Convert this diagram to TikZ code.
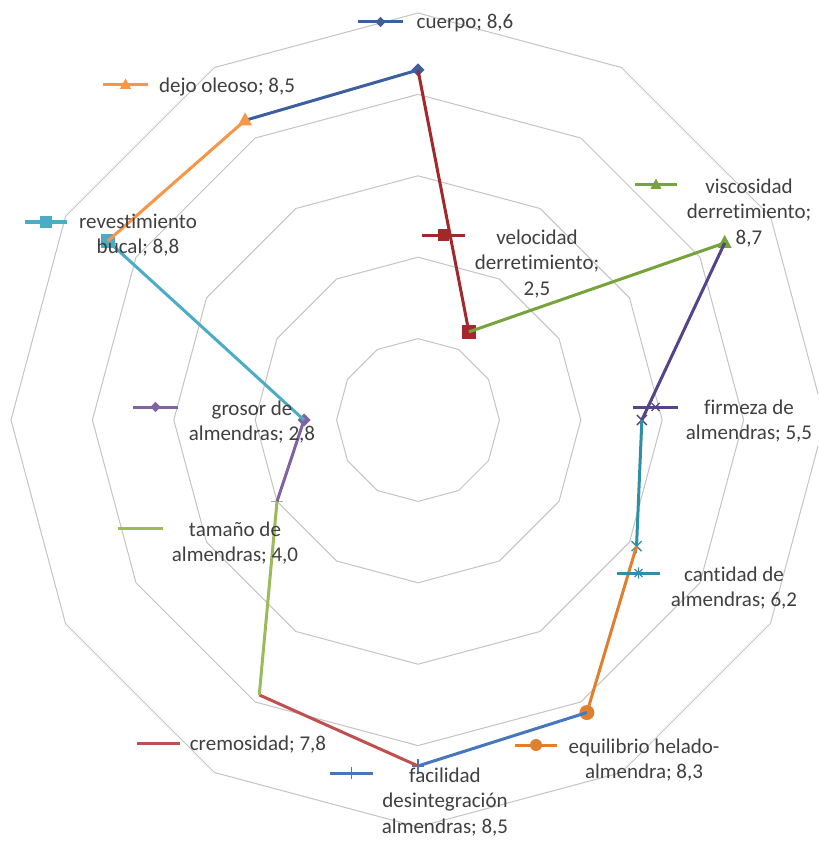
\documentclass[tikz,border=0pt]{standalone}
\usepackage{fontspec}
\setmainfont{Carlito}[Ligatures={NoCommon}]
\usetikzlibrary{calc}
\definecolor{cA}{HTML}{3B5FA0}
\definecolor{cB}{HTML}{A1292B}
\definecolor{cC}{HTML}{76A33A}
\definecolor{cD}{HTML}{56448A}
\definecolor{cE}{HTML}{2F8FA6}
\definecolor{cF}{HTML}{E0802E}
\definecolor{cG}{HTML}{4677BE}
\definecolor{cH}{HTML}{C0504D}
\definecolor{cI}{HTML}{9BBB59}
\definecolor{cJ}{HTML}{8064A2}
\definecolor{cK}{HTML}{4BACC6}
\definecolor{cL}{HTML}{F79646}
\definecolor{gridc}{HTML}{C4C4C4}
\definecolor{txt}{HTML}{404040}
\tikzset{
  gridline/.style={draw=gridc,line width=1pt},
  serline/.style={line width=3pt,line join=round},
  lab/.style={font=\fontsize{21}{25.5}\selectfont,text=txt,align=center,inner sep=0pt},
  pics/mdia/.style={code={\fill (0,-6.5)--(6.5,0)--(0,6.5)--(-6.5,0)--cycle;}},
  pics/msq/.style={code={\fill (-7,-7) rectangle (7,7);}},
  pics/mtri/.style={code={\fill (0,-8)--(7,5)--(-7,5)--cycle;}},
  pics/mcirc/.style={code={\fill (0,0) circle (7.5);}},
  pics/mx/.style={code={\draw[line width=1.3pt] (-5,-5)--(5,5) (-5,5)--(5,-5);}},
  pics/mstar/.style={code={\draw[line width=1.3pt] (-5,-5)--(5,5) (-5,5)--(5,-5) (0,-7)--(0,7);}},
  pics/mplus/.style={code={\draw[line width=1.3pt] (-6,0)--(6,0) (0,-7)--(0,7);}},
  pics/mdash/.style={code={\draw[line width=1.5pt] (-6,0)--(6,0);}},
  pics/mnone/.style={code={}},
}
\newcommand\legkey[5]{%
  \draw[serline,#4] (#1,#3) -- (#2,#3);
  \pic[#4,scale=.8] at ({(#1+#2)/2},#3) {#5};}
\begin{document}
\begin{tikzpicture}[x=1pt,y=-1pt]
\useasboundingbox (0,0) rectangle (818,842);
\fill[white] (0,0) rectangle (818,842);
\clip (0,0) rectangle (818,842);
\coordinate (c) at (418,420);
% grid rings
\foreach \k in {1,...,5}{
  \draw[gridline] ($(c)+(0:{\k*81.4pt})$)
    \foreach \a in {30,60,...,330}{ -- ($(c)+(\a:{\k*81.4pt})$) } -- cycle;
}
% data points
\foreach \n/\a/\v in {p1/90/8.6, p2/60/2.5, p3/30/8.7, p4/0/5.5, p5/-30/6.2, p6/-60/8.3,
  p7/-90/8.5, p8/-120/7.8, p9/-150/4.0, p10/180/2.8, p11/150/8.8, p12/120/8.5}{
  \coordinate (\n) at ($(c)+(\a:{\v*40.7pt})$);
}
% series segments and markers
\draw[serline,cA] (p12) -- (p1);  \pic[cA] at (p1) {mdia};
\draw[serline,cB] (p1) -- (p2);   \pic[cB] at (p2) {msq};
\draw[serline,cC] (p2) -- (p3);   \pic[cC] at (p3) {mtri};
\draw[serline,cD] (p3) -- (p4);   \pic[cD] at (p4) {mx};
\draw[serline,cE] (p4) -- (p5);   \pic[cE] at (p5) {mstar};
\draw[serline,cF] (p5) -- (p6);   \pic[cF] at (p6) {mcirc};
\draw[serline,cG] (p6) -- (p7);   \pic[cG] at (p7) {mplus};
\draw[serline,cH] (p7) -- (p8);   \pic[cH] at (p8) {mnone};
\draw[serline,cI] (p8) -- (p9);   \pic[cI] at (p9) {mdash};
\draw[serline,cJ] (p9) -- (p10);  \pic[cJ] at (p10) {mdia};
\draw[serline,cK] (p10) -- (p11); \pic[cK] at (p11) {msq};
\draw[serline,cL] (p11) -- (p12); \pic[cL] at (p12) {mtri};
% legend keys
\legkey{358}{403}{22}{cA}{mdia}
\legkey{422}{465}{235}{cB}{msq}
\legkey{635}{677}{185}{cC}{mtri}
\legkey{633}{678}{407}{cD}{mx}
\legkey{617}{660}{573}{cE}{mstar}
\legkey{515}{557}{745}{cF}{mcirc}
\legkey{330}{373}{773}{cG}{mplus}
\legkey{137}{180}{743}{cH}{mnone}
\legkey{118}{163}{528}{cI}{mdash}
\legkey{133}{178}{407}{cJ}{mdia}
\legkey{25}{67}{222}{cK}{msq}
\legkey{103}{148}{85}{cL}{mtri}
% labels
\node[lab] (l1) at (465,23) {cuerpo; 8,6};
\node[lab] (l2) at (537,264) {velocidad\\derretimiento;\\2,5};
\node[lab] (l3) at (749,213) {viscosidad\\derretimiento;\\8,7};
\node[lab] (l4) at (749,421) {firmeza de\\almendras; 5,5};
\node[lab] (l5) at (734,588) {cantidad de\\almendras; 6,2};
\node[lab] (l6) at (644,760) {equilibrio helado-\\almendra; 8,3};
\node[lab] (l7) at (445,802) {facilidad\\desintegración\\almendras; 8,5};
\node[lab] (l8) at (258,745) {cremosidad; 7,8};
\node[lab] (l9) at (235,543) {tamaño de\\almendras; 4,0};
\node[lab] (l10) at (252,422) {grosor de\\almendras; 2,8};
\node[lab] (l11) at (138,235) {revestimiento\\bucal; 8,8};
\node[lab] (l12) at (227,87) {dejo oleoso; 8,5};
\end{tikzpicture}
\end{document}
